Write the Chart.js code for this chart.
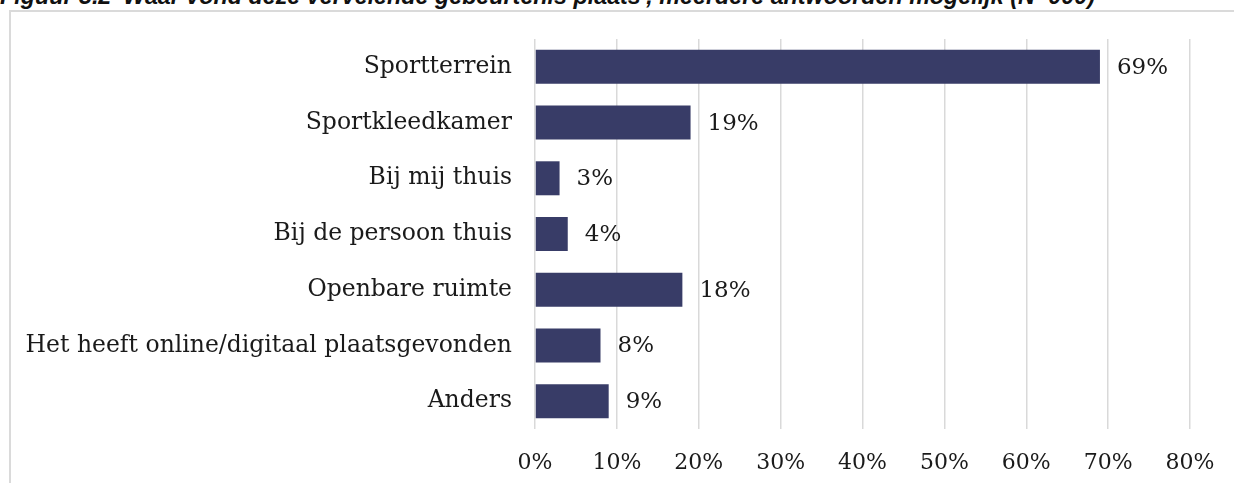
<!DOCTYPE html>
<html>
<head>
<meta charset="utf-8">
<script src="https://cdn.jsdelivr.net/npm/chart.js@4.4.0/dist/chart.umd.min.js"></script>
<style>
    body { margin: 0; background: #fff; overflow: hidden; }
    #title {
        position: absolute; left: 0; top: -17px; white-space: nowrap;
        font-family: "Liberation Sans", Arial, sans-serif; font-weight: bold; font-style: italic;
        font-size: 23.3px; color: #111;
    }
    #box {
        position: absolute; left: 9px; top: 10px; width: 1300px; height: 600px;
        border-left: 2px solid #dadada; border-top: 2px solid #dadada;
    }
    #wrap { position: absolute; left: 0; top: 0; width: 1234px; height: 483px; }
</style>
</head>
<body>
<div id="title">Figuur 3.2 'Waar vond deze vervelende gebeurtenis plaats', meerdere antwoorden mogelijk (N=000)</div>
<div id="box"></div>
<div id="wrap"><canvas id="chart" width="1234" height="483"></canvas></div>
<script>
// data
const categories = [
    "Sportterrein",
    "Sportkleedkamer",
    "Bij mij thuis",
    "Bij de persoon thuis",
    "Openbare ruimte",
    "Het heeft online/digitaal plaatsgevonden",
    "Anders"
];
const percentages = [69, 19, 3, 4, 18, 8, 9];
const xTicks = [0, 10, 20, 30, 40, 50, 60, 70, 80];

const labelFont = { family: "'DejaVu Serif', serif", size: 23.5 };
const tickFont = { family: "'DejaVu Serif', serif", size: 22 };
const textColor = "#1a1a1a";

// simple value labels to the right of each bar
const valueLabels = {
    id: "valueLabels",
    afterDatasetsDraw(chart) {
        const ctx = chart.ctx;
        const meta = chart.getDatasetMeta(0);
        ctx.save();
        ctx.font = "23px " + labelFont.family;
        ctx.fillStyle = textColor;
        ctx.textAlign = "left";
        ctx.textBaseline = "middle";
        meta.data.forEach((bar, i) => {
            ctx.fillText(percentages[i] + "%", bar.x + 17, bar.y + 1);
        });
        ctx.restore();
    }
};

new Chart(document.getElementById("chart").getContext("2d"), {
    type: "bar",
    data: {
        labels: categories,
        datasets: [{
            data: percentages,
            backgroundColor: "#383c67",
            borderWidth: 0,
            barPercentage: 0.61,
            categoryPercentage: 1
        }]
    },
    options: {
        indexAxis: "y",
        responsive: false,
        animation: false,
        layout: { padding: { top: 39, right: 44, left: 0, bottom: 0 } },
        plugins: {
            legend: { display: false },
            tooltip: { enabled: false }
        },
        scales: {
            x: {
                min: 0,
                max: 80,
                afterBuildTicks: (scale) => { scale.ticks = xTicks.map(v => ({ value: v })); },
                afterFit: (scale) => { scale.height = 54; scale.paddingLeft = 0; scale.paddingRight = 0; },
                ticks: {
                    callback: (v) => v + "%",
                    font: tickFont,
                    color: textColor,
                    padding: 21,
                    maxRotation: 0
                },
                grid: { color: "#d9d9d9", lineWidth: 1.5, drawTicks: false },
                border: { display: false }
            },
            y: {
                afterFit: (scale) => { scale.width = 535; scale.paddingTop = 0; scale.paddingBottom = 0; },
                ticks: { font: labelFont, color: textColor, padding: 23 },
                grid: { display: false, drawTicks: false },
                border: { display: false }
            }
        }
    },
    plugins: [valueLabels]
});
</script>
</body>
</html>
